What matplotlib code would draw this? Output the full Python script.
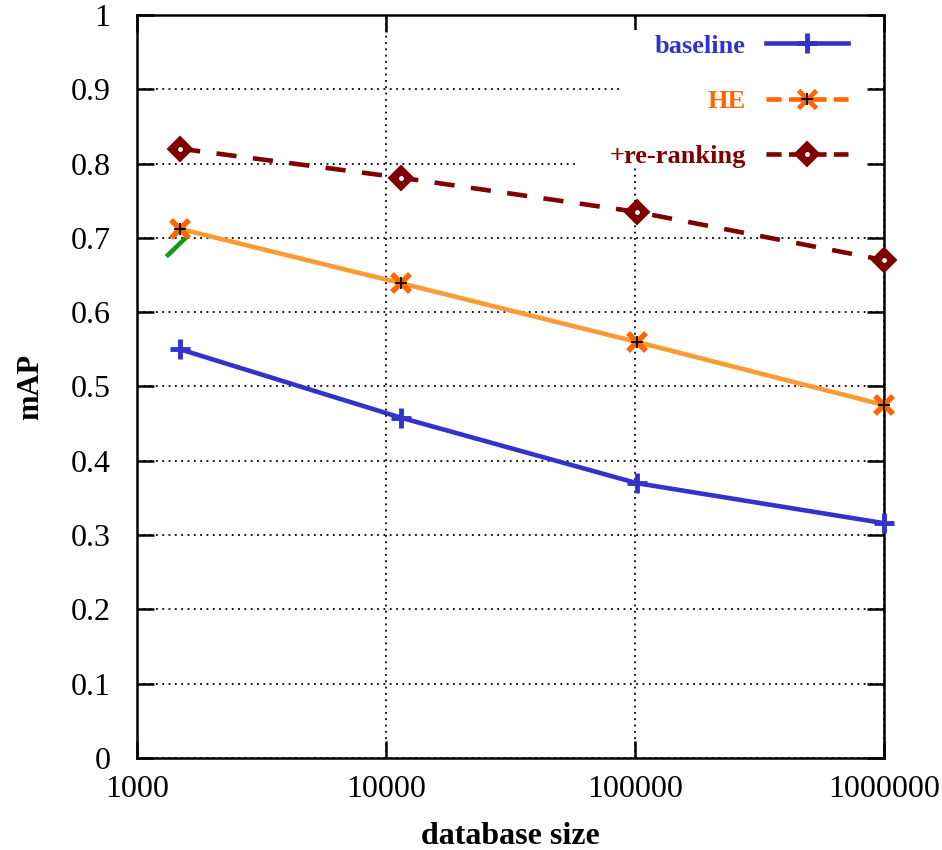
import numpy as np
import matplotlib.pyplot as plt
from matplotlib.lines import Line2D
from matplotlib.patches import Rectangle
from matplotlib.ticker import FixedLocator, FuncFormatter, NullLocator

# ── Data ──────────────────────────────────────────────────────────────────────
db_size   = [1491, 11491, 101491, 1001491]
baseline  = [0.550, 0.458, 0.370, 0.316]
he        = [0.712, 0.639, 0.560, 0.475]
rerank    = [0.820, 0.781, 0.735, 0.670]
green_x   = [1332, 1558]
green_y   = [0.677, 0.699]

x_ticks = [1000, 10000, 100000, 1000000]
y_ticks = [0, 0.1, 0.2, 0.3, 0.4, 0.5, 0.6, 0.7, 0.8, 0.9, 1.0]

BLUE   = "#3333cc"
ORANGE = "#ff9933"
ORMARK = "#ff6600"
DARKRD = "#800000"
LW     = 3.3

plt.rcParams["font.family"] = ["Liberation Serif", "DejaVu Serif"]

fig = plt.figure(figsize=(9.42, 8.5), dpi=100)
ax = fig.add_axes([0.1454, 0.1082, 0.7930, 0.8742])

ax.set_xscale("log")
ax.set_xlim(1000, 1000000)
ax.set_ylim(0, 1)

# grid (dotted) under everything
ax.set_axisbelow(True)
ax.grid(True, color="black", linestyle=(0, (1, 2.5)), lw=1.3)
# key area hides the grid
for (x0, y0, w, h) in [(0.6466, 0.86, 0.33, 0.12), (0.586, 0.795, 0.39, 0.07)]:
    ax.add_patch(Rectangle((x0, y0), w, h, transform=ax.transAxes,
                           facecolor="white", edgecolor="none", zorder=0.6))

# series
ax.plot(green_x, green_y, color="#119911", lw=LW, zorder=2)
ax.plot(db_size, baseline, color=BLUE, lw=LW, marker="+", ms=15, mew=3.5,
        clip_on=False, zorder=3)
ax.plot(db_size, he, color=ORANGE, lw=LW, zorder=3)
ax.plot(db_size, he, ls="none", marker="x", color=ORMARK, ms=13, mew=4,
        clip_on=False, zorder=4)
ax.plot(db_size, he, ls="none", marker="+", color="black", ms=9, mew=1.3,
        clip_on=False, zorder=4.5)
ax.plot(db_size, rerank, color=DARKRD, lw=LW, dashes=(4.4, 3.6),
        marker="D", ms=12, mfc=DARKRD, mec=DARKRD, mew=1.5,
        clip_on=False, zorder=3)
ax.plot(db_size, rerank, ls="none", marker="o", ms=3.5, mfc="white",
        mec="none", clip_on=False, zorder=3.5)

# ticks
ax.xaxis.set_major_locator(FixedLocator(x_ticks))
ax.xaxis.set_minor_locator(NullLocator())
ax.xaxis.set_major_formatter(FuncFormatter(lambda v, p: f"{int(round(v))}"))
ax.yaxis.set_major_locator(FixedLocator(y_ticks))
ax.yaxis.set_major_formatter(FuncFormatter(lambda v, p: f"{v:g}"))
ax.tick_params(which="both", direction="in", top=True, right=True,
               length=12, width=1.8, labelsize=23)
ax.tick_params(axis="x", pad=12)
ax.tick_params(axis="y", pad=19)
for s in ax.spines.values():
    s.set_linewidth(1.8)

ax.set_xlabel("database size", fontsize=23, fontweight="bold", labelpad=13)
ax.set_ylabel("mAP", fontsize=22, fontweight="bold", labelpad=18)

# legend (labels left of samples, right aligned)
h_base = Line2D([], [], color=BLUE, lw=LW, marker="+", ms=15, mew=3.5)
h_he = (Line2D([], [], color=ORMARK, lw=LW, dashes=(3.3, 1.6), marker="x",
               ms=13, mew=3.5),
        Line2D([], [], ls="none", color="black", marker="+", ms=9, mew=1.3))
h_rr = (Line2D([], [], color=DARKRD, lw=LW, dashes=(3.3, 1.6), marker="D",
               ms=12, mfc=DARKRD, mec=DARKRD, mew=1.5),
        Line2D([], [], ls="none", marker="o", ms=3.5, mfc="white", mec="none"))
leg = ax.legend([h_base, h_he, h_rr], ["baseline", "HE", "+re-ranking"],
                loc="upper right", bbox_to_anchor=(0.983, 1.006),
                markerfirst=False, frameon=False, handlelength=3.1,
                handletextpad=0.75, labelspacing=1.2,
                prop={"size": 19, "weight": "bold"})
for t, c in zip(leg.get_texts(), [BLUE, ORMARK, DARKRD]):
    t.set_color(c)

fig.savefig("out.png", dpi=100)
